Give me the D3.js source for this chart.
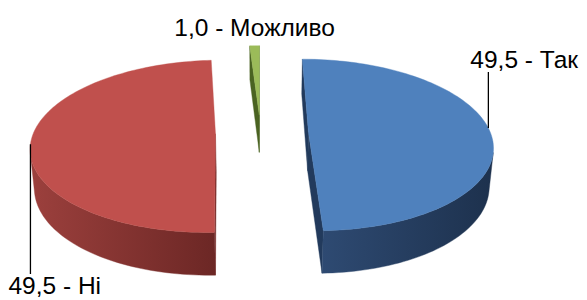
<!DOCTYPE html>
<meta charset='utf-8'>
<head>
    <title>Pie 3D</title>
    <script src='https://cdn.jsdelivr.net/npm/d3@7/dist/d3.min.js'></script>
</head>

<style>
    body {
        margin: 0;
        background: #fff;
    }

    text {
        font-family: 'Liberation Sans', Arial, sans-serif;
        font-size: 24.5px;
        fill: #000;
    }

    .leader {
        stroke: #000;
        stroke-width: 1.3px;
    }
</style>

<body>
<svg></svg>

<script>
    var vWidth = 587;
    var vHeight = 300;

    // Data
    var vCategories = ['Так', 'Ні', 'Можливо'];
    var vValues = [49.5, 49.5, 1.0];

    // Colours per slice: top face, outer side (light -> dark), cut wall
    var vTopColors = ['#4f81bd', '#c0504d', '#9bbb59'];
    var vSideLight = ['#2e4a72', '#9c403d', '#65832f'];
    var vSideDark = ['#1d314d', '#6c2725', '#435a1c'];
    var vWallColors = ['#223a5c', '#7a2e2c', '#4a6322'];
    var vExplode = [48, 45, 40];

    // 3D view: radius, thickness, tilt, camera distance, screen centre
    var vR = 182;
    var vH = 44;
    var vTilt = 27.5 * Math.PI / 180;
    var vDist = 1110;
    var vOx = 260.5;
    var vOy = 132.8;
    var cosA = Math.cos(vTilt);
    var sinA = Math.sin(vTilt);
    var vCam = [0, vDist * sinA, -vDist * cosA];

    var svg = d3.select('svg').attr('width', vWidth).attr('height', vHeight);
    var defs = svg.append('defs');
    var g = svg.append('g');

    // perspective projection of a world point [x, y, z] (z = depth, y = up)
    function project(p) {
        var yc = p[1] * cosA + p[2] * sinA;
        var zc = vDist + p[2] * cosA - p[1] * sinA;
        return [vOx + vDist * p[0] / zc, vOy - vDist * yc / zc];
    }

    function facing(p, n) {
        return n[0] * (vCam[0] - p[0]) + n[1] * (vCam[1] - p[1]) + n[2] * (vCam[2] - p[2]) > 0;
    }

    var vPie = d3.pie().sort(null).value(function (d) { return d; });
    var vArcs = vPie(vValues).map(function (a, i) {
        var mid = (a.startAngle + a.endAngle) / 2;
        a.i = i;
        a.apex = [vExplode[i] * Math.sin(mid), 0, vExplode[i] * Math.cos(mid)];
        return a;
    });

    function rim(a, t, y) {
        return [a.apex[0] + vR * Math.sin(t), y, a.apex[2] + vR * Math.cos(t)];
    }

    var line = d3.line();

    function poly(pts) {
        return line(pts.map(project)) + 'Z';
    }

    // far slices first
    var vOrder = vArcs.slice().sort(function (a, b) { return b.apex[2] - a.apex[2]; });

    vOrder.forEach(function (a) {
        var i = a.i;
        var a0 = a.startAngle, a1 = a.endAngle;
        var n = Math.max(4, Math.ceil((a1 - a0) / (Math.PI / 120)));
        var ts = d3.range(n + 1).map(function (k) { return a0 + (a1 - a0) * k / n; });
        var sg = g.append('g').attr('class', 'slice');

        // cut walls at start and end angle
        var walls = [
            {t: a0, n: [-Math.cos(a0), 0, Math.sin(a0)]},
            {t: a1, n: [Math.cos(a1), 0, -Math.sin(a1)]}
        ];
        walls.forEach(function (w) {
            if (!facing(a.apex, w.n)) return;
            var pts = [a.apex, rim(a, w.t, 0), rim(a, w.t, -vH), [a.apex[0], -vH, a.apex[2]]];
            sg.append('path').attr('d', poly(pts))
                .attr('fill', vWallColors[i]).attr('stroke', vWallColors[i]).attr('stroke-width', 0.4);
        });

        // outer curved side, visible runs only
        var runs = [], cur = null;
        for (var k = 0; k < n; k++) {
            var tm = (ts[k] + ts[k + 1]) / 2;
            var vis = facing(rim(a, tm, 0), [Math.sin(tm), 0, Math.cos(tm)]);
            if (vis) {
                if (!cur) { cur = [ts[k]]; runs.push(cur); }
                cur.push(ts[k + 1]);
            } else {
                cur = null;
            }
        }
        runs.forEach(function (run, r) {
            var pts = run.map(function (t) { return rim(a, t, 0); })
                .concat(run.slice().reverse().map(function (t) { return rim(a, t, -vH); }));
            var xs = pts.map(function (p) { return project(p)[0]; });
            var id = 'side' + i + '_' + r;
            var grad = defs.append('linearGradient').attr('id', id)
                .attr('gradientUnits', 'userSpaceOnUse')
                .attr('x1', d3.min(xs)).attr('x2', d3.max(xs)).attr('y1', 0).attr('y2', 0);
            grad.append('stop').attr('offset', 0).attr('stop-color', vSideLight[i]);
            grad.append('stop').attr('offset', 1).attr('stop-color', vSideDark[i]);
            sg.append('path').attr('d', poly(pts))
                .attr('fill', 'url(#' + id + ')').attr('stroke', 'url(#' + id + ')').attr('stroke-width', 0.4);
        });

        // top face
        var topPts = [a.apex].concat(ts.map(function (t) { return rim(a, t, 0); }));
        sg.append('path').attr('d', poly(topPts))
            .attr('fill', vTopColors[i]).attr('stroke', vTopColors[i]).attr('stroke-width', 0.4);
    });

    // labels
    function labelText(i) {
        return vValues[i].toFixed(1).replace('.', ',') + ' - ' + vCategories[i];
    }

    var gl = svg.append('g').attr('class', 'labels');

    // Так: leader goes up from the right rim
    var pYes = project(rim(vArcs[0], 87 * Math.PI / 180, 0));
    gl.append('line').attr('class', 'leader')
        .attr('x1', pYes[0]).attr('y1', pYes[1]).attr('x2', pYes[0]).attr('y2', 72);
    gl.append('text').attr('x', pYes[0] - 18).attr('y', 68).text(labelText(0));

    // Ні: leader goes down from the left rim
    var pNo = project(rim(vArcs[1], 263 * Math.PI / 180, 0));
    gl.append('line').attr('class', 'leader')
        .attr('x1', pNo[0]).attr('y1', pNo[1]).attr('x2', pNo[0]).attr('y2', 274);
    gl.append('text').attr('x', pNo[0] - 22).attr('y', 294).text(labelText(1));

    // Можливо: centred above the small slice
    var pMay = project(rim(vArcs[2], (vArcs[2].startAngle + vArcs[2].endAngle) / 2, 0));
    gl.append('text').attr('x', pMay[0]).attr('y', pMay[1] - 10)
        .attr('text-anchor', 'middle').text(labelText(2));
</script>
</body>
